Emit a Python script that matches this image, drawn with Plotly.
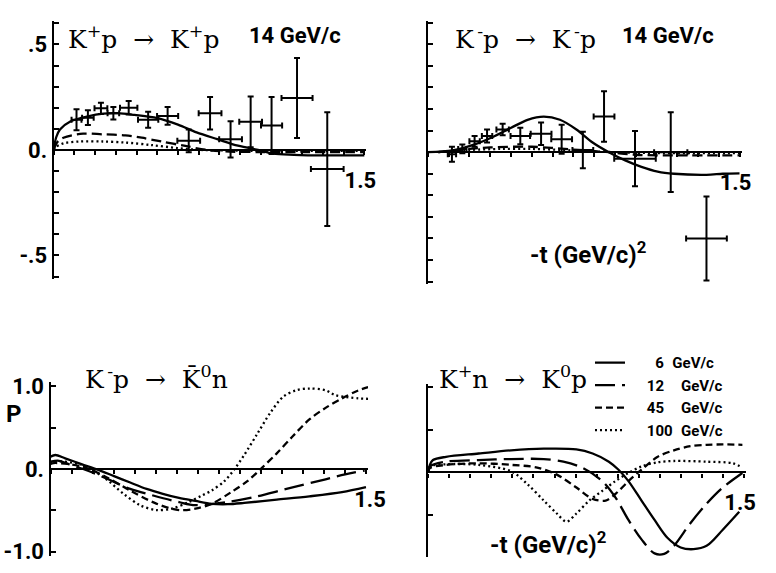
import plotly.graph_objects as go

W, H = 776, 573

# ---------------- data ----------------
# K+p -> K+p at 14 GeV/c : measured polarization
kpp_t  = [0.11, 0.165, 0.228, 0.288, 0.362, 0.456, 0.55, 0.652, 0.755, 0.854, 0.951, 1.052, 1.175, 1.321]
kpp_p  = [0.143, 0.153, 0.197, 0.174, 0.2, 0.143, 0.161, 0.043, 0.174, 0.05, 0.133, 0.116, 0.246, -0.091]
kpp_dp = [0.05, 0.035, 0.027, 0.03, 0.032, 0.038, 0.042, 0.054, 0.077, 0.086, 0.12, 0.135, 0.19, 0.27]
kpp_dt = [0.024, 0.028, 0.031, 0.028, 0.042, 0.049, 0.051, 0.055, 0.055, 0.055, 0.055, 0.051, 0.075, 0.079]

# K+p model curves
kpp_sol_t = [0, 0.012, 0.03, 0.08, 0.16, 0.24, 0.31, 0.39, 0.5, 0.6, 0.69, 0.79, 0.89, 1.0, 1.06, 1.16, 1.31, 1.5]
kpp_sol_p = [0, 0.06, 0.097, 0.135, 0.158, 0.172, 0.174, 0.166, 0.151, 0.12, 0.083, 0.051, 0.02, -0.003, -0.018, -0.023, -0.026, -0.026]
kpp_lda_t = [0, 0.016, 0.047, 0.142, 0.236, 0.346, 0.425, 0.519, 0.629, 0.739, 0.85, 1.0, 1.2, 1.5]
kpp_lda_p = [0, 0.035, 0.058, 0.077, 0.074, 0.069, 0.058, 0.04, 0.02, 0.0, -0.008, -0.01, -0.01, -0.01]
kpp_dot_t = [0, 0.008, 0.047, 0.126, 0.236, 0.346, 0.472, 0.597, 0.708, 0.85, 1.0, 1.5]
kpp_dot_p = [0, 0.012, 0.031, 0.04, 0.04, 0.035, 0.023, 0.009, 0.0, -0.003, -0.004, -0.004]

# K-p -> K-p at 14 GeV/c : measured polarization
kmp_t  = [0.116, 0.166, 0.225, 0.285, 0.36, 0.445, 0.545, 0.644, 0.746, 0.848, 0.997, 1.169, 1.341]
kmp_p  = [-0.01, 0.015, 0.05, 0.075, 0.105, 0.075, 0.085, 0.06, 0.01, 0.165, -0.03, 0.0, -0.40]
kmp_dp = [0.035, 0.02, 0.025, 0.03, 0.027, 0.038, 0.052, 0.067, 0.085, 0.117, 0.128, 0.185, 0.195]
kmp_dt = [0.02, 0.02, 0.025, 0.025, 0.03, 0.047, 0.05, 0.05, 0.05, 0.05, 0.1, 0.08, 0.098]

# K-p model curves
kmp_sol_t = [0, 0.119, 0.229, 0.307, 0.401, 0.48, 0.558, 0.636, 0.715, 0.793, 0.871, 0.95, 1.028, 1.106, 1.185, 1.341, 1.42, 1.5]
kmp_sol_p = [0, 0.008, 0.037, 0.068, 0.113, 0.15, 0.165, 0.15, 0.105, 0.045, 0.0, -0.038, -0.068, -0.09, -0.1, -0.105, -0.1, -0.098]
kmp_lda_t = [0.05, 0.2, 0.3, 0.5, 0.7, 0.87, 1.0, 1.2, 1.5]
kmp_lda_p = [0, 0.015, 0.022, 0.025, 0.012, 0.0, -0.012, -0.015, -0.015]
kmp_dot_t = [0.05, 0.2, 0.35, 0.5, 0.7, 0.9, 1.1, 1.5]
kmp_dot_p = [0, 0.01, 0.015, 0.015, 0.008, 0.0, -0.004, -0.004]

# K-p -> K0bar n : predictions at 6, 12, 45, 100 GeV/c
cex1_t6   = [0, 0.023, 0.07, 0.147, 0.224, 0.302, 0.379, 0.457, 0.534, 0.611, 0.689, 0.766, 0.843, 0.921, 1.076, 1.231, 1.386, 1.5]
cex1_p6   = [0.15, 0.17, 0.13, 0.06, -0.006, -0.085, -0.163, -0.24, -0.3, -0.35, -0.386, -0.42, -0.425, -0.41, -0.37, -0.33, -0.28, -0.22]
cex1_t12  = [0, 0.04, 0.085, 0.178, 0.271, 0.379, 0.488, 0.611, 0.689, 0.843, 0.967, 1.122, 1.308, 1.401, 1.494]
cex1_p12  = [0.09, 0.1, 0.06, -0.02, -0.12, -0.24, -0.32, -0.4, -0.437, -0.398, -0.34, -0.24, -0.124, -0.065, -0.018]
cex1_t45  = [0, 0.015, 0.147, 0.255, 0.379, 0.503, 0.611, 0.689, 0.766, 0.859, 0.936, 0.999, 1.076, 1.153, 1.231, 1.308, 1.386, 1.463, 1.51]
cex1_p45  = [0.06, 0.073, 0.033, -0.085, -0.26, -0.418, -0.496, -0.48, -0.42, -0.28, -0.146, 0.0, 0.19, 0.4, 0.6, 0.74, 0.855, 0.95, 0.99]
cex1_t100 = [0, 0.015, 0.147, 0.255, 0.348, 0.426, 0.503, 0.581, 0.658, 0.72, 0.766, 0.828, 0.875, 0.921, 0.983, 1.045, 1.107, 1.169, 1.231, 1.308, 1.354, 1.463, 1.51]
cex1_p100 = [0.07, 0.092, 0.053, -0.104, -0.3, -0.437, -0.496, -0.476, -0.398, -0.32, -0.26, -0.144, 0.0, 0.17, 0.425, 0.68, 0.876, 0.953, 0.974, 0.953, 0.894, 0.855, 0.85]

# K+n -> K0 p : predictions at 6, 12, 45, 100 GeV/c
cex2_t6   = [0, 0.008, 0.023, 0.085, 0.24, 0.394, 0.549, 0.704, 0.781, 0.858, 0.904, 0.951, 1.013, 1.075, 1.136, 1.199, 1.26, 1.322, 1.399, 1.477]
cex2_p6   = [0, 0.088, 0.145, 0.183, 0.222, 0.26, 0.279, 0.271, 0.222, 0.126, 0.031, -0.103, -0.332, -0.561, -0.771, -0.885, -0.905, -0.866, -0.676, -0.465]
cex2_t12  = [0, 0.008, 0.085, 0.24, 0.394, 0.549, 0.642, 0.735, 0.827, 0.889, 0.951, 1.013, 1.075, 1.121, 1.167, 1.245, 1.322, 1.399, 1.492]
cex2_p12  = [0, 0.069, 0.126, 0.145, 0.157, 0.157, 0.126, 0.05, -0.103, -0.294, -0.561, -0.79, -0.955, -0.96, -0.866, -0.599, -0.37, -0.179, -0.007]
cex2_t45  = [0, 0.008, 0.085, 0.24, 0.394, 0.518, 0.611, 0.704, 0.781, 0.843, 0.889, 0.951, 1.013, 1.09, 1.167, 1.245, 1.322, 1.399, 1.492]
cex2_p45  = [0, 0.05, 0.088, 0.107, 0.088, 0.057, -0.027, -0.179, -0.313, -0.332, -0.255, -0.103, 0.031, 0.183, 0.26, 0.309, 0.325, 0.329, 0.325]
cex2_t100 = [0, 0.008, 0.085, 0.24, 0.394, 0.472, 0.549, 0.611, 0.657, 0.704, 0.765, 0.827, 0.889, 0.951, 1.013, 1.09, 1.167, 1.322, 1.446, 1.492]
cex2_p100 = [0, 0.069, 0.095, 0.088, 0.012, -0.141, -0.332, -0.485, -0.58, -0.485, -0.332, -0.218, -0.103, -0.007, 0.069, 0.119, 0.134, 0.126, 0.107, 0.057]

FS = "\u2007"  # figure space keeps the energy column aligned
energy_labels = [FS * 3 + "6" + FS + "GeV/c",
                 FS * 2 + "12" + FS * 2 + "GeV/c",
                 FS * 2 + "45" + FS * 2 + "GeV/c",
                 FS * 2 + "100" + FS + "GeV/c"]
x_ticks = [round(0.1 * i, 1) for i in range(16)]
x_text = ["" for _ in range(15)] + ["1.5"]

# reaction labels (wide gaps around the arrow, typewriter style)
GAP = "\u00a0\u00a0"
ARROW = GAP + "\u2192" + GAP
reac_kpp = "K<sup>+</sup>p" + ARROW + "K<sup>+</sup>p"
reac_kmp = "K<sup>\u2009-</sup>p" + ARROW + "K<sup>\u2009-</sup>p"
reac_cex1 = "K<sup>\u2009-</sup>p" + ARROW + "K\u0304<sup>0</sup>n"
reac_cex2 = "K<sup>+</sup>n" + ARROW + "K<sup>0</sup>p"

# ---------------- styling ----------------
SERIF = "DejaVu Serif, Liberation Serif, serif"
BOLD = "Liberation Sans Narrow, Roboto, Liberation Sans, sans-serif"
DASH = {"solid": "solid", "long": "20px,7px", "mid": "10px,5px", "short": "7px,4px", "dot": "2px,3px"}
LW = 2.3

# panel frames in pixels: (x_left, x_right, y_top, y_bottom, y_range)
panels = {
    1: (55.0, 375.1, 13.6, 278.4, [-0.61, 0.61]),
    2: (438.0, 759.2, 12.9, 283.7, [-0.61, 0.61]),
    3: (51.7, 376.8, 385.0, 563.6, [-1.05, 1.05]),
    4: (438.3, 763.9, 386.9, 565.0, [-1.0, 1.04]),
}
XR = [0, 1.51]

fig = go.Figure()


def ax(i, kind):
    return kind if i == 1 else f"{kind}{i}"


def curve(i, t, p, dash, name=None, legend=False):
    fig.add_trace(go.Scatter(
        x=t, y=p, mode="lines", xaxis=ax(i, "x"), yaxis=ax(i, "y"),
        line=dict(color="black", width=LW, dash=DASH[dash], shape="spline", smoothing=0.9),
        name=name, showlegend=legend, hoverinfo="skip"))


def points(i, t, p, dt, dp):
    fig.add_trace(go.Scatter(
        x=t, y=p, mode="markers", xaxis=ax(i, "x"), yaxis=ax(i, "y"),
        marker=dict(size=2, color="black"), showlegend=False,
        error_y=dict(type="data", array=dp, color="black", thickness=2, width=3),
        error_x=dict(type="data", array=dt, color="black", thickness=2, width=3)))


points(1, kpp_t, kpp_p, kpp_dt, kpp_dp)
curve(1, kpp_sol_t, kpp_sol_p, "solid")
curve(1, kpp_lda_t, kpp_lda_p, "mid")
curve(1, kpp_dot_t, kpp_dot_p, "dot")

points(2, kmp_t, kmp_p, kmp_dt, kmp_dp)
curve(2, kmp_sol_t, kmp_sol_p, "solid")
curve(2, kmp_lda_t, kmp_lda_p, "mid")
curve(2, kmp_dot_t, kmp_dot_p, "dot")

curve(3, cex1_t6, cex1_p6, "solid")
curve(3, cex1_t12, cex1_p12, "long")
curve(3, cex1_t45, cex1_p45, "short")
curve(3, cex1_t100, cex1_p100, "dot")

curve(4, cex2_t6, cex2_p6, "solid", energy_labels[0], True)
curve(4, cex2_t12, cex2_p12, "long", energy_labels[1], True)
curve(4, cex2_t45, cex2_p45, "short", energy_labels[2], True)
curve(4, cex2_t100, cex2_p100, "dot", energy_labels[3], True)

# y-axis tick marks and labels per panel
y_small = [round(-0.6 + 0.1 * i, 1) for i in range(13)]
y_small_text = {0.5: ".5", 0.0: "0.", -0.5: "-.5"}
y_big = [-1.0, -0.5, 0.0, 0.5, 1.0]
y_big_text = {1.0: "1.0", 0.0: "0.", -1.0: "-1.0"}

layout = {}
for i, (xl, xr, yt, yb, yr) in panels.items():
    xdom = [xl / W, xr / W]
    ydom = [1 - yb / H, 1 - yt / H]
    zero_pos = ydom[0] + (0 - yr[0]) / (yr[1] - yr[0]) * (ydom[1] - ydom[0])
    layout[f"xaxis{'' if i == 1 else i}"] = dict(
        domain=xdom, range=XR, anchor="free", position=zero_pos,
        showline=True, linecolor="black", linewidth=2.4, showgrid=False, zeroline=False,
        tickmode="array", tickvals=x_ticks, ticktext=x_text,
        ticks="outside", ticklen=4, tickwidth=2, tickcolor="black",
        ticklabelstandoff=6, ticklabelshift=(4 if i == 3 else -4),
        ticklabeloverflow="allow",
        tickfont=dict(family=BOLD, size=22, color="black", weight="bold"))
    if i in (1, 2):
        tv = y_small
        tt = [y_small_text.get(v, "") if i == 1 else "" for v in tv]
    else:
        tv = y_big
        tt = [y_big_text.get(v, "") if i == 3 else "" for v in tv]
    layout[f"yaxis{'' if i == 1 else i}"] = dict(
        domain=ydom, range=yr, anchor=ax(i, "x"),
        showline=True, linecolor="black", linewidth=2.4, showgrid=False, zeroline=False,
        tickmode="array", tickvals=tv, ticktext=tt,
        ticks="inside", ticklen=5, tickwidth=2, tickcolor="black",
        ticklabeloverflow="allow",
        tickfont=dict(family=BOLD, size=22, color="black", weight="bold"))

annotations = []


def note(px_x, px_y, text, family, size, bold=False):
    annotations.append(dict(
        x=px_x / W, y=1 - px_y / H, xref="paper", yref="paper", text=text, showarrow=False,
        xanchor="center", yanchor="middle",
        font=dict(family=family, size=size, color="black", weight="bold" if bold else "normal")))


note(147, 30, reac_kpp, SERIF, 25)
note(302, 28, "14 GeV/c", BOLD, 22, True)
note(538, 30, reac_kmp, SERIF, 25)
note(684, 28, "14 GeV/c", BOLD, 22, True)
note(602, 252, "-t (GeV/c)<sup>2</sup>", BOLD, 24, True)
note(160, 380, reac_cex1, SERIF, 25)
note(14, 418, "P", BOLD, 24, True)
note(525, 380, reac_cex2, SERIF, 25)
note(561, 550, "-t (GeV/c)<sup>2</sup>", BOLD, 24, True)

fig.update_layout(
    width=W, height=H, margin=dict(l=0, r=0, t=0, b=0),
    paper_bgcolor="white", plot_bgcolor="white",
    annotations=annotations,
    legend=dict(x=604 / W, y=1 - 348 / H, xanchor="left", yanchor="top",
                bgcolor="rgba(0,0,0,0)", tracegroupgap=0,
                font=dict(family=BOLD, size=15, color="black", weight="bold")),
    **layout)

fig.write_html("out.html")
